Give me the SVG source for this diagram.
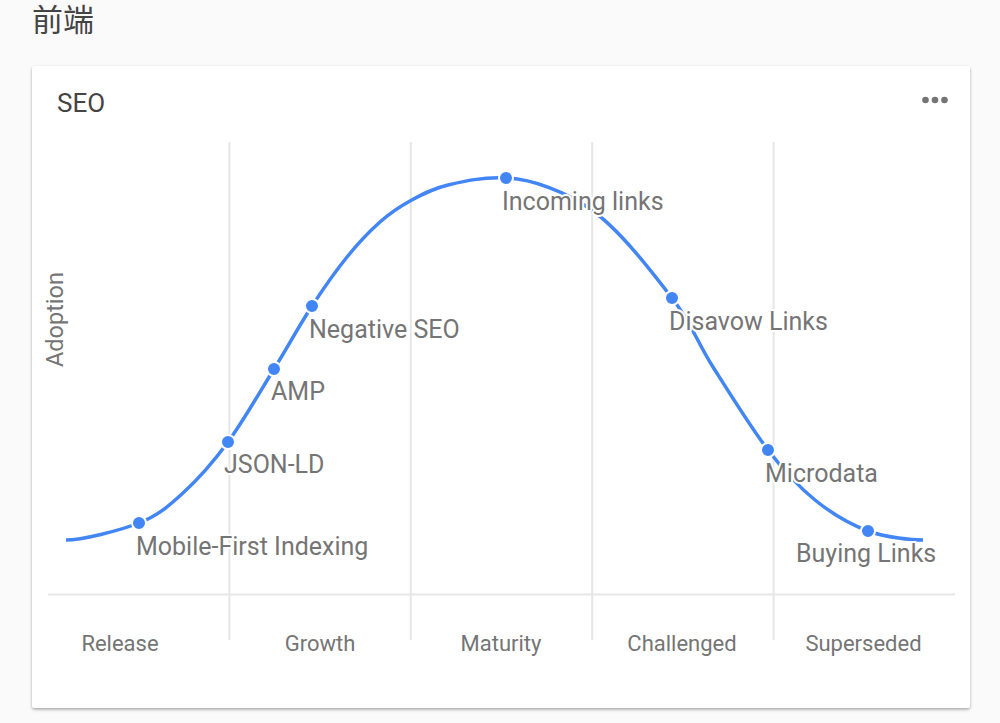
<svg xmlns="http://www.w3.org/2000/svg" width="1000" height="723" viewBox="0 0 1000 723">
<defs>
<filter id="sh" x="-5%" y="-5%" width="110%" height="110%">
<feDropShadow dx="0" dy="1.5" stdDeviation="1.5" flood-color="#000" flood-opacity="0.35"/>
</filter>
<style>
.title{font-family:"Noto Sans CJK SC","Noto Sans",sans-serif;font-size:31px;fill:#444}
.card-title{font-family:Roboto,"Liberation Sans",sans-serif;font-size:26px;fill:#444}
.grid{stroke:#e6e6e6;stroke-width:2;fill:none}
.axis{font-family:Roboto,"Liberation Sans",sans-serif;font-size:22px;fill:#757575}
.ylab{font-family:Roboto,"Liberation Sans",sans-serif;font-size:23.5px;fill:#757575}
.lbl{font-family:Roboto,"Liberation Sans",sans-serif;font-size:25px;fill:#757575;stroke:#fff;stroke-width:4;stroke-linejoin:round;paint-order:stroke}
.dot{fill:#4285f4;stroke:#fff;stroke-width:2}
.curve{fill:none;stroke:#4285f4;stroke-width:3.5}
.menu{fill:#757575}
</style>
</defs>
<rect width="1000" height="723" fill="#fafafa"/>
<text class="title" x="32" y="31">前端</text>
<rect x="32" y="66" width="938" height="642" rx="3" fill="#fff" filter="url(#sh)"/>
<text class="card-title" x="57" y="112">SEO</text>
<g id="menu">
<circle class="menu" cx="925.5" cy="100" r="3.3"/>
<circle class="menu" cx="935" cy="100" r="3.3"/>
<circle class="menu" cx="944.5" cy="100" r="3.3"/>
</g>
<g id="grid">
<line class="grid" x1="229.4" y1="142" x2="229.4" y2="640"/>
<line class="grid" x1="410.8" y1="142" x2="410.8" y2="640"/>
<line class="grid" x1="592.2" y1="142" x2="592.2" y2="640"/>
<line class="grid" x1="773.6" y1="142" x2="773.6" y2="640"/>
<line class="grid" x1="48" y1="594.5" x2="955" y2="594.5"/>
</g>
<text class="ylab" transform="translate(63,367) rotate(-90)">Adoption</text>
<g id="stages">
<text class="axis" x="120" y="651" text-anchor="middle">Release</text>
<text class="axis" x="320" y="651" text-anchor="middle">Growth</text>
<text class="axis" x="501" y="651" text-anchor="middle">Maturity</text>
<text class="axis" x="682" y="651" text-anchor="middle">Challenged</text>
<text class="axis" x="863.5" y="651" text-anchor="middle">Superseded</text>
</g>
<g id="connectors">
<path class="curve" d="M66,540 C81,540 119.5,530.8 139,523 C158.5,515.2 168.2,506.5 183,493 C197.8,479.5 212.8,462.7 228,442 C243.2,421.3 260,391.7 274,369 C288,346.3 299.8,324.7 312,306 C324.2,287.3 335.7,271 347,257 C358.3,243 369.5,231.3 380,222 C390.5,212.7 398.7,207.2 410,201 C421.3,194.8 432,188.8 448,185 C464,181.2 481,177 506,178 C531,179 565.3,191 593,211 C620.7,231 652,272 672,298 C692,324 697,341.7 713,367 C729,392.3 751,427.8 768,450 C785,472.2 798.3,486.5 815,500 C831.7,513.5 850,524.3 868,531 C886,537.7 913,540 923,540"/>
</g>
<g id="node-mobile-first"><circle class="dot" cx="139" cy="523" r="7"/><text class="lbl" x="136" y="555">Mobile-First Indexing</text></g>
<g id="node-json-ld"><circle class="dot" cx="228" cy="442" r="7"/><text class="lbl" x="224" y="473">JSON-LD</text></g>
<g id="node-amp"><circle class="dot" cx="274" cy="369" r="7"/><text class="lbl" x="271" y="400">AMP</text></g>
<g id="node-negative-seo"><circle class="dot" cx="312" cy="306" r="7"/><text class="lbl" x="309" y="338">Negative SEO</text></g>
<g id="node-incoming-links"><circle class="dot" cx="506" cy="178" r="7"/><text class="lbl" x="502" y="210">Incoming links</text></g>
<g id="node-disavow-links"><circle class="dot" cx="672" cy="298" r="7"/><text class="lbl" x="669" y="330">Disavow Links</text></g>
<g id="node-microdata"><circle class="dot" cx="768" cy="450" r="7"/><text class="lbl" x="765" y="482">Microdata</text></g>
<g id="node-buying-links"><circle class="dot" cx="868" cy="531" r="7"/><text class="lbl" x="796" y="562">Buying Links</text></g>
</svg>
